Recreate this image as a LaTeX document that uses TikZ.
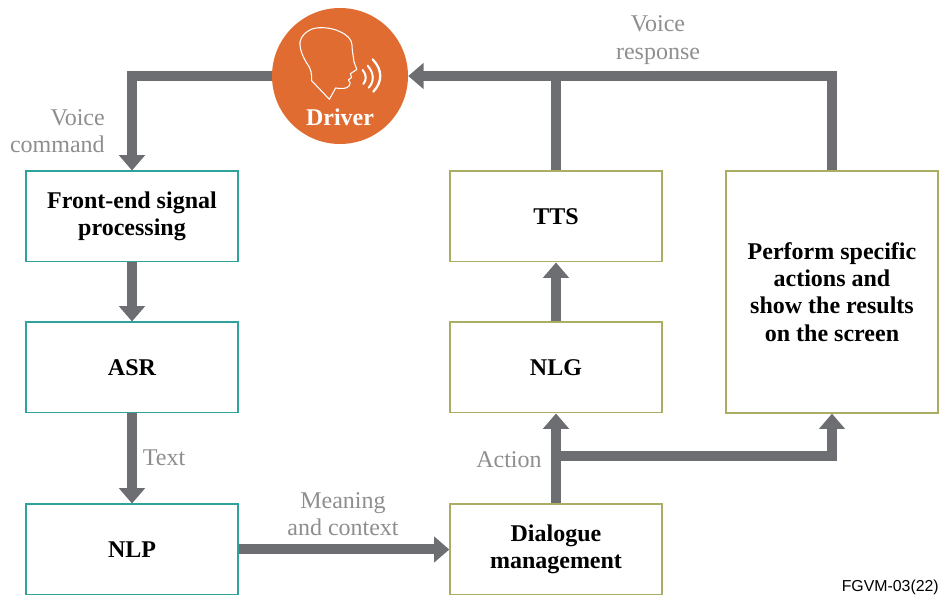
\documentclass[tikz,border=0pt]{standalone}
\usepackage{fontspec}
\setmainfont{Liberation Serif}
\newfontfamily\tagfont{Liberation Sans}
\usetikzlibrary{arrows.meta}
\definecolor{teal1}{HTML}{2FA39B}
\definecolor{olive1}{HTML}{ABAE62}
\definecolor{flow}{HTML}{6D6E71}
\definecolor{lab}{HTML}{8E8E8E}
\definecolor{orange1}{HTML}{E06C32}
\tikzset{
  x=0.75pt,y=-0.75pt,
  box/.style={draw,line width=1pt,minimum width=159pt,align=center,inner sep=0pt,font=\fontsize{18}{20.5}\selectfont\bfseries},
  tealbox/.style={box,draw=teal1},
  olivebox/.style={box,draw=olive1},
  lbl/.style={text=lab,align=center,inner sep=0pt,font=\fontsize{18}{20.5}\selectfont},
  flowline/.style={draw=flow,line width=7.5pt},
  flowarrow/.style={flowline,-{Triangle[width=19pt,length=11.5pt]}},
}
\begin{document}
\begin{tikzpicture}
\useasboundingbox (0,0) rectangle (940,598);
\node[tealbox,minimum height=68pt] (fe) at (132,216.5) {Front-end signal\\processing};
\node[tealbox,minimum height=68pt] (asr) at (132,367.5) {ASR};
\node[tealbox,minimum height=68pt] (nlp) at (132,549.5) {NLP};
\node[olivebox,minimum height=68pt] (tts) at (556,216.5) {TTS};
\node[olivebox,minimum height=68pt] (nlg) at (556,367.5) {NLG};
\node[olivebox,minimum height=68pt] (dm) at (556,549.5) {Dialogue\\management};
\node[olivebox,minimum height=181.5pt] (act) at (832,292) {Perform specific\\actions and\\show the results\\on the screen};
\node[circle,fill=orange1,minimum size=102pt,inner sep=0pt] (driver) at (340,76) {};
\node[text=white,inner sep=0pt,font=\fontsize{18}{20}\selectfont\bfseries] (drv) at (340,117) {Driver};
\begin{scope}[shift={(260,0)},x=0.25pt,y=-0.25pt,line join=round]
\draw[white,line width=0.8pt]
  (208,298) -- (155,242) .. controls (156,222) and (152,208) .. (146,198)
  .. controls (132,178) and (118,150) .. (120,125)
  .. controls (125,105) and (140,95) .. (150,90)
  .. controls (165,80) and (210,80) .. (240,95)
  .. controls (262,105) and (275,118) .. (276,135)
  .. controls (276,150) and (280,170) .. (282,185)
  .. controls (285,195) and (290,205) .. (290,209)
  -- (271,221) .. controls (272,226) and (276,230) .. (274,233)
  -- (265,240) .. controls (272,245) and (272,252) .. (268,257)
  .. controls (262,268) and (240,266) .. (227,264) -- cycle;
\draw[white,line width=1.5pt,line cap=round] (308,210) .. controls (320,225) and (320,240) .. (310,252);
\draw[white,line width=1.5pt,line cap=round] (323,197) .. controls (343,220) and (343,245) .. (326,263);
\draw[white,line width=1.7pt,line cap=round] (338,178) .. controls (368,210) and (368,245) .. (340,275);
\end{scope}
\draw[flowarrow] (driver.west) -| (fe.north);
\draw[flowarrow] (fe.south) -- (asr.north);
\draw[flowarrow] (asr.south) -- (nlp.north);
\draw[flowarrow] (nlp.east) -- (dm.west);
\draw[flowarrow] (dm.north) -- (nlg.south);
\draw[flowarrow] (nlg.north) -- (tts.south);
\coordinate (branch) at (556,456);
\draw[flowarrow] (branch) -| (act.south);
\draw[flowline] (tts.north) -- (tts.north |- driver.east);
\draw[flowarrow] (act.north) |- (driver.east);
\node[lbl,align=right,anchor=east] (l1) at (105,131) {Voice\\command};
\node[lbl] (l2) at (658,40) {Voice\\response};
\node[lbl] (l3) at (164,458) {Text};
\node[lbl] (l4) at (343,514) {Meaning\\and context};
\node[lbl] (l5) at (509,460) {Action};
\node[inner sep=0pt,anchor=east,font=\tagfont\fontsize{11.9}{13}\selectfont] (tag) at (939,587) {FGVM-03(22)};
\end{tikzpicture}
\end{document}
